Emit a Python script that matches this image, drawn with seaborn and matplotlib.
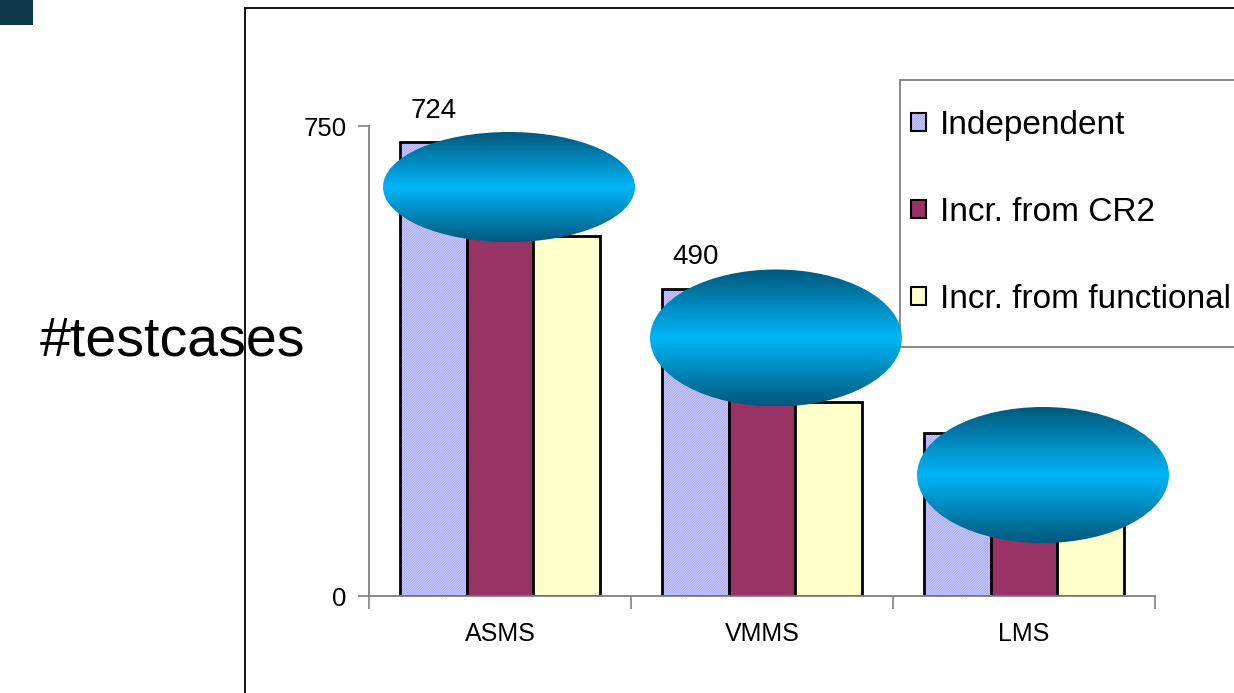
import numpy as np
import pandas as pd
import matplotlib
matplotlib.use("Agg")
import matplotlib.pyplot as plt
import matplotlib.colors as mcolors
from matplotlib.patches import Ellipse, Rectangle
from matplotlib.lines import Line2D
import seaborn as sns

# ---------------- data ----------------
categories = ["ASMS", "VMMS", "LMS"]
series = ["Independent", "Incr. from CR2", "Incr. from functional"]
independent = [724, 490, 260]
incr_cr2 = [640, 400, 200]          # hidden under the ellipses; estimated
incr_functional = [574, 310, 180]
value_labels = ["724", "490", ""]   # labels visible on the Independent bars
y_ticks = [0, 750]

colors = ["#fafaff", "#993366", "#ffffcc"]

df = pd.DataFrame({
    "system": categories * 3,
    "series": [series[0]] * 3 + [series[1]] * 3 + [series[2]] * 3,
    "count": independent + incr_cr2 + incr_functional,
})

sns.set_style("white")
plt.rcParams["font.family"] = ["Liberation Sans", "DejaVu Sans"]
plt.rcParams["hatch.linewidth"] = 0.5
plt.rcParams["text.color"] = "black"
plt.rcParams["xtick.labelcolor"] = "black"
plt.rcParams["ytick.labelcolor"] = "black"

W, H = 1234, 693
fig = plt.figure(figsize=(W / 100, H / 100), dpi=100)
fig.patch.set_facecolor("white")

def fx(px):
    return px / W

def fy(py):
    return 1 - py / H

ax = fig.add_axes([fx(369), fy(596), fx(1155) - fx(369), fy(126) - fy(596)])
sns.barplot(data=df, x="system", y="count", hue="series", order=categories,
            hue_order=series, palette=colors, width=0.763, gap=0,
            edgecolor="black", linewidth=2.0, saturation=1, ax=ax, legend=False)

# hatch on Independent bars
hatch_col = mcolors.to_rgba("#8c8cff")
for p in ax.containers[0].patches:
    p.set_hatch("/" * 20)
    p._hatch_color = hatch_col

ax.set_ylim(0, 750)
ax.set_xlim(-0.5, 2.5)
ax.set_xlabel("")
ax.set_ylabel("")
for s in ["top", "right"]:
    ax.spines[s].set_visible(False)
for s in ["left", "bottom"]:
    ax.spines[s].set_color("#808080")
    ax.spines[s].set_linewidth(1.3)

ax.set_yticks(y_ticks)
ax.set_yticklabels([str(v) for v in y_ticks], fontsize=18.5, color="black")
ax.tick_params(axis="y", direction="out", length=8, width=1.2, color="#808080", pad=8, left=True)

ax.set_xticks([-0.5, 0.5, 1.5, 2.5])
ax.set_xticklabels([])
ax.set_xticks([0, 1, 2], minor=True)
ax.set_xticklabels(categories, minor=True, fontsize=18, color="black")
ax.tick_params(axis="x", which="major", direction="out", length=9, width=1.2, color="#808080", bottom=True)
ax.tick_params(axis="x", which="minor", length=0, pad=19)

for p, lab in zip(ax.containers[0].patches, value_labels):
    if lab:
        ax.annotate(lab, (p.get_x() + p.get_width() / 2, p.get_height()),
                    xytext=(0, 13.5), textcoords="offset points",
                    ha="center", va="bottom", fontsize=20, annotation_clip=False)

# legend (frame drawn separately; it runs off the right edge)
frame = Rectangle((fx(900), fy(347)), fx(1250) - fx(900), fy(80) - fy(347),
                  transform=fig.transFigure, facecolor="white",
                  edgecolor="#808080", linewidth=1.3, zorder=4.5, clip_on=False)
ax.add_patch(frame)
handles = [c.patches[0] for c in ax.containers]
leg = ax.legend(handles, series, loc="upper left",
                bbox_to_anchor=(fx(911), fy(110)), bbox_transform=fig.transFigure,
                fontsize=24, frameon=False,
                handlelength=0.45, handleheight=0.45, handletextpad=0.42,
                labelspacing=1.68, borderpad=0, borderaxespad=0)
leg.set_zorder(6)
for h in leg.legend_handles:
    h.set_linewidth(1.5)
for t in leg.get_texts():
    t.set_color("black")

# y label text
fig.text(fx(173), fy(356), "#testcases", fontsize=40, ha="center", va="baseline")

# slide decorations
fig.add_artist(Line2D([fx(245), fx(245)], [fy(8), 0], color="black", lw=1.3))
fig.add_artist(Line2D([fx(245), 1], [fy(8), fy(8)], color="black", lw=1.3))
fig.add_artist(Rectangle((0, fy(25)), fx(33), 1 - fy(25), transform=fig.transFigure,
                         facecolor="#0d3a4a", edgecolor="none"))

# gradient ellipses overlay
ov = fig.add_axes([0, 0, 1, 1], zorder=10)
ov.set_xlim(0, W)
ov.set_ylim(H, 0)
ov.axis("off")
ov.patch.set_alpha(0)
cmap = mcolors.LinearSegmentedColormap.from_list("g", ["#01587c", "#00b6f8", "#01587c"])
grad = np.linspace(0, 1, 256).reshape(-1, 1)
for cx, cy, ew, eh in [(509, 187, 252, 110), (776, 338, 252, 137), (1043, 475, 252, 136)]:
    e = Ellipse((cx, cy), ew, eh, transform=ov.transData, facecolor="none", edgecolor="none")
    ov.add_patch(e)
    im = ov.imshow(grad, cmap=cmap, aspect="auto",
                   extent=(cx - ew / 2, cx + ew / 2, cy + eh / 2, cy - eh / 2),
                   interpolation="bilinear")
    im.set_clip_path(e)
ov.set_xlim(0, W)
ov.set_ylim(H, 0)

fig.savefig("out.png", dpi=100)
